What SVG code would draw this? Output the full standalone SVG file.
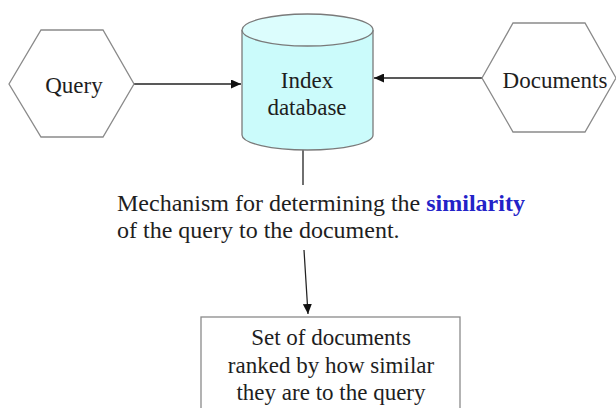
<svg xmlns="http://www.w3.org/2000/svg" width="616" height="408" viewBox="0 0 616 408">
<defs>
<style>
.t{font-family:"Liberation Serif","Times New Roman",serif;font-size:23px;fill:#1e1e1e}
.m{font-size:24px}
.hex{fill:#fff;stroke:#8a8a8a;stroke-width:1.3}
.ln{stroke:#222;stroke-width:1.3;fill:none}
</style>
<marker id="ah" viewBox="0 0 10 10" refX="10" refY="5" markerWidth="10" markerHeight="9" markerUnits="userSpaceOnUse" orient="auto" preserveAspectRatio="none">
<path d="M0,0 L10,5 L0,10 Z" fill="#111"/>
</marker>
</defs>
<rect width="616" height="408" fill="#fff"/>
<g id="connectors">
<line class="ln" x1="134" y1="84" x2="241" y2="84" marker-end="url(#ah)"/>
<line class="ln" x1="482" y1="78" x2="374" y2="78" marker-end="url(#ah)"/>
<line class="ln" x1="303" y1="150" x2="303" y2="185"/>
<line class="ln" x1="304" y1="250" x2="308" y2="314" marker-end="url(#ah)"/>
</g>
<g id="query">
<polygon class="hex" points="9,84 41,30 103,30 134,84 103,137 41,137"/>
<text class="t" x="74" y="93" text-anchor="middle">Query</text>
</g>
<g id="index">
<path d="M242,30 L242,135 A65.5,15 0 0 0 373,135 L373,30" fill="#cbfbfb" stroke="#7a7a7a" stroke-width="1.3"/>
<ellipse cx="307.5" cy="30" rx="65.5" ry="16" fill="#dcfdfd" stroke="#7a7a7a" stroke-width="1.3"/>
<text class="t" x="307" y="88" text-anchor="middle">Index</text>
<text class="t" x="307" y="115" text-anchor="middle">database</text>
</g>
<g id="documents">
<polygon class="hex" points="482,78 513,23 585,23 616,78 585,132 513,132"/>
<text class="t" x="555" y="88" text-anchor="middle">Documents</text>
</g>
<g id="mechanism">
<text class="t m" x="117" y="211">Mechanism for determining the <tspan font-weight="bold" fill="#2323c8">similarity</tspan></text>
<text class="t m" x="117" y="238">of the query to the document.</text>
</g>
<g id="result">
<rect x="201" y="317" width="259" height="100" fill="#fff" stroke="#8a8a8a" stroke-width="1.3"/>
<text class="t" x="331" y="345" text-anchor="middle">Set of documents</text>
<text class="t" x="331" y="373" text-anchor="middle">ranked by how similar</text>
<text class="t" x="331" y="400" text-anchor="middle">they are to the query</text>
</g>
</svg>
